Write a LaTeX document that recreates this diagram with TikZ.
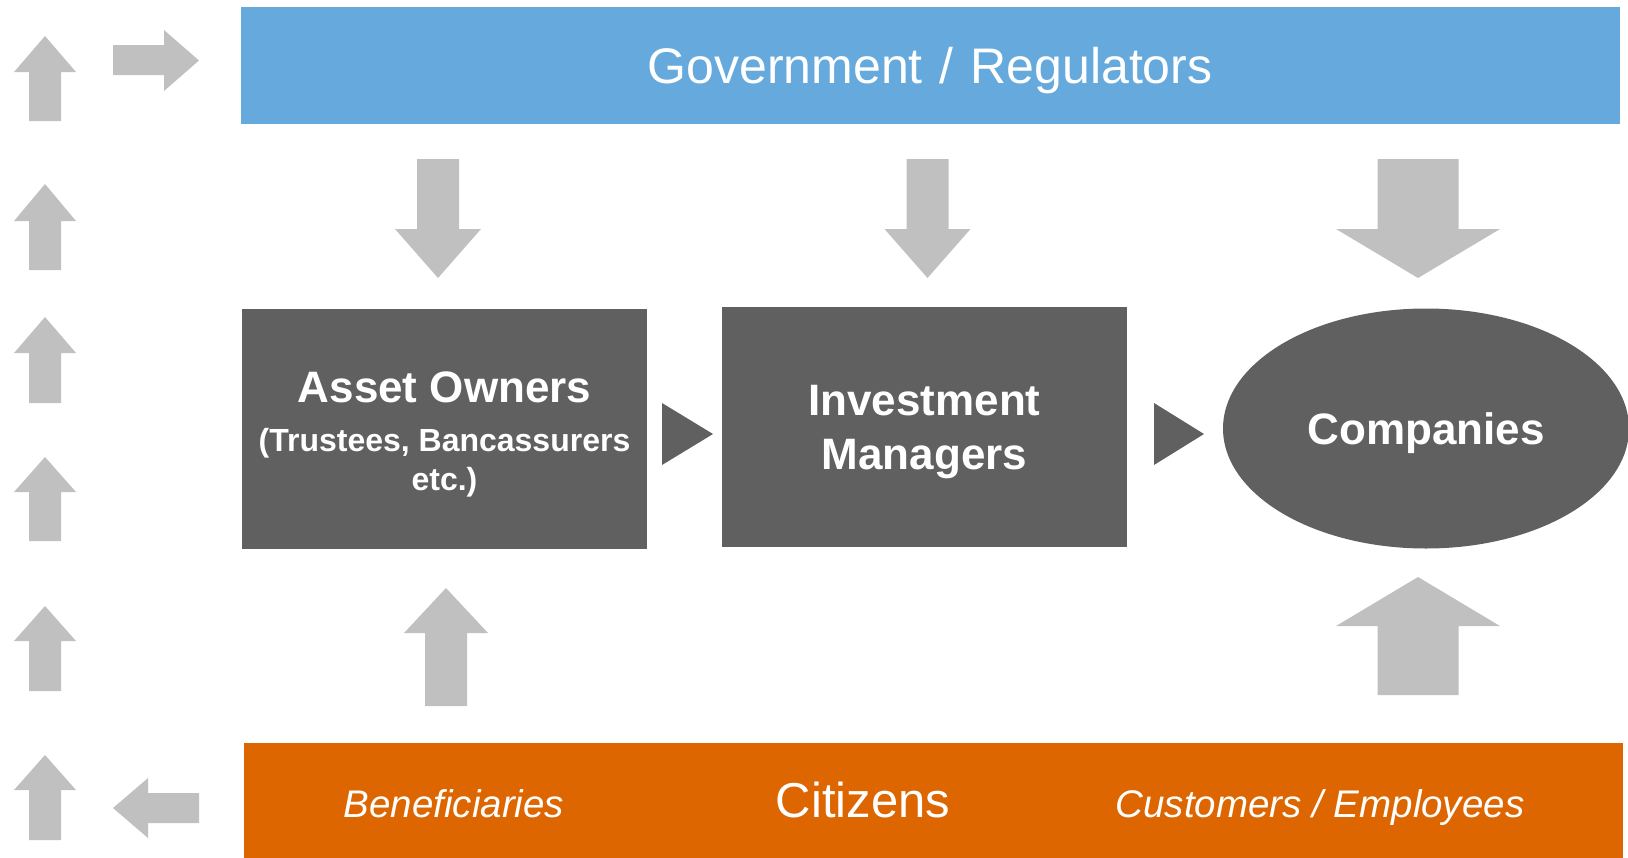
\documentclass[tikz,border=0pt]{standalone}
\usepackage{fontspec}
\setmainfont{Liberation Sans}
\usetikzlibrary{shapes.geometric}

\definecolor{govblue}{RGB}{102,170,221}
\definecolor{citorange}{RGB}{221,102,0}
\definecolor{boxgray}{RGB}{96,96,96}
\definecolor{arrowgray}{RGB}{192,192,192}

\begin{document}
\begin{tikzpicture}[x=1pt,y=-1pt]
\tikzstyle{every node}+=[inner sep=0pt]
\tikzstyle{bar}=[rectangle, minimum width=1379pt, minimum height=117pt]
\tikzstyle{block}=[rectangle, fill=boxgray, minimum width=405pt, minimum height=240pt]
\tikzstyle{blocktext}=[text=white, align=center, font=\bfseries\fontsize{44}{54}\selectfont]
\tikzstyle{bartext}=[text=white, text depth=0pt]
\useasboundingbox (0,0) rectangle (1628,857);
% bars
\node [bar, fill=govblue, bartext, font=\fontsize{50}{60}\selectfont] (gov) at (930,65.5) {Government\hspace{17pt}/\hspace{17pt}Regulators};
\node [bar, fill=citorange] (cit) at (933,801) {};
\node [bartext, font=\itshape\fontsize{38.5}{46}\selectfont] (benef) at (454,804) {Beneficiaries};
\node [bartext, font=\fontsize{49}{58}\selectfont] (citz) at (863,800) {Citizens};
\node [bartext, font=\itshape\fontsize{38.5}{46}\selectfont] (cust) at (1320,804) {Customers / Employees};
% middle row
\node [block] (ao) at (444.5,428.5) {};
\node [blocktext] (aotext) at ([yshift=-6pt]ao.center) {Asset Owners\\[-4.5pt]\fontsize{32}{39}\selectfont(Trustees, Bancassurers\\[-15pt]\fontsize{32}{39}\selectfont etc.)};
\node [block] (im) at (924.5,427) {};
\node [blocktext] (imtext) at ([yshift=-5.5pt]im.center) {Investment\\Managers};
\node [ellipse, fill=boxgray, minimum width=406pt, minimum height=240pt, blocktext, text depth=0pt] (comp) at (1426,428.5) {Companies};
\fill [boxgray] (662,403) -- (713,434) -- (662,465) -- cycle;
\fill [boxgray] (1154,403) -- (1204,434) -- (1154,465) -- cycle;
% arrows from the regulators
\fill [arrowgray] (417,159) -- (459,159) -- (459,229) -- (481,229) -- (438,278) -- (395,229) -- (417,229) -- cycle;
\fill [arrowgray] (906.5,159) -- (948.5,159) -- (948.5,229) -- (970.5,229) -- (927.5,278) -- (884.5,229) -- (906.5,229) -- cycle;
\fill [arrowgray] (1377.5,159) -- (1458.5,159) -- (1458.5,229) -- (1500,229) -- (1418,278) -- (1336,229) -- (1377.5,229) -- cycle;
% arrows from the citizens
\fill [arrowgray] (425,706) -- (467,706) -- (467,633) -- (488,633) -- (446,588) -- (404,633) -- (425,633) -- cycle;
\fill [arrowgray] (1377.5,695) -- (1458.5,695) -- (1458.5,626) -- (1500,626) -- (1418,577) -- (1336,626) -- (1377.5,626) -- cycle;
% left column
\fill [arrowgray] (29,121) -- (61,121) -- (61,72) -- (76,72) -- (45,36) -- (14,72) -- (29,72) -- cycle;
\fill [arrowgray] (29,270) -- (61,270) -- (61,221) -- (76,221) -- (45,184) -- (14,221) -- (29,221) -- cycle;
\fill [arrowgray] (29,403) -- (61,403) -- (61,353) -- (76,353) -- (45,317) -- (14,353) -- (29,353) -- cycle;
\fill [arrowgray] (29,541) -- (61,541) -- (61,492) -- (76,492) -- (45,457) -- (14,492) -- (29,492) -- cycle;
\fill [arrowgray] (29,691) -- (61,691) -- (61,641) -- (76,641) -- (45,606) -- (14,641) -- (29,641) -- cycle;
\fill [arrowgray] (29,840) -- (61,840) -- (61,790) -- (76,790) -- (45,755) -- (14,790) -- (29,790) -- cycle;
\fill [arrowgray] (113,45) -- (164,45) -- (164,30) -- (199,60.5) -- (164,91) -- (164,75) -- (113,75) -- cycle;
\fill [arrowgray] (199,793) -- (148,793) -- (148,778) -- (113,808) -- (148,838) -- (148,823) -- (199,823) -- cycle;
\end{tikzpicture}
\end{document}
